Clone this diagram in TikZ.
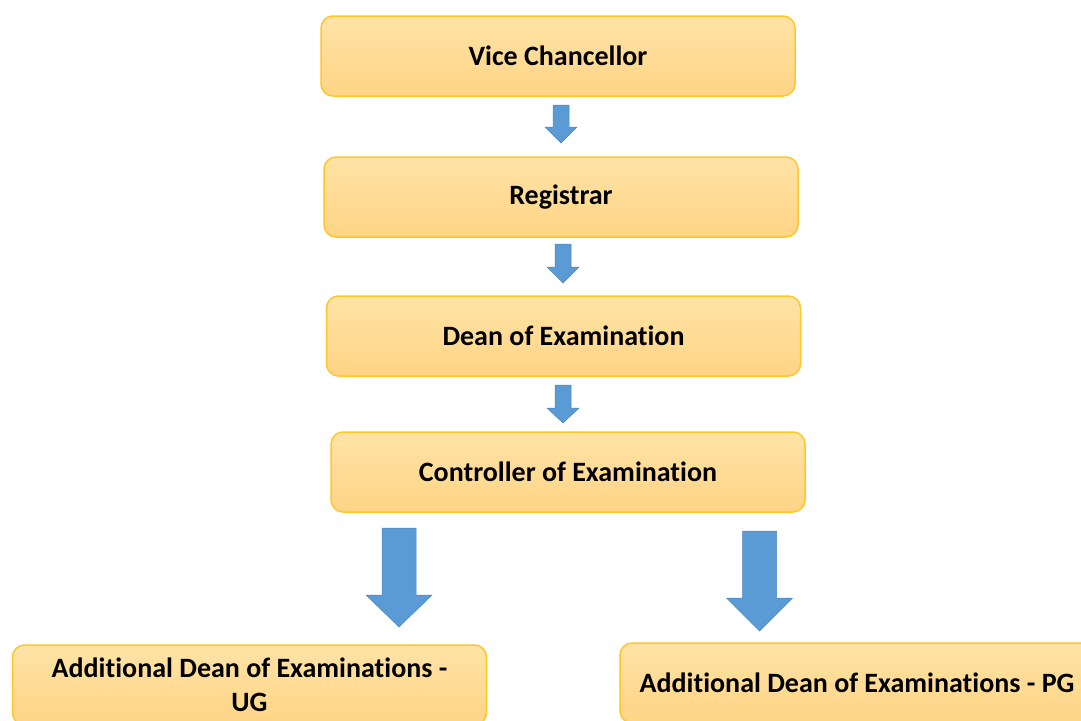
\documentclass[tikz,border=0pt]{standalone}
\usepackage{fontspec}
\setmainfont{Carlito}[Ligatures=NoCommon]
\definecolor{boxtop}{HTML}{FFE3A6}
\definecolor{boxbottom}{HTML}{FFD485}
\definecolor{boxline}{HTML}{FFC629}
\definecolor{arrowfill}{HTML}{5B9BD5}
\definecolor{arrowline}{HTML}{4A86C2}
\tikzset{
  office/.style={draw=boxline, line width=1.5pt, rounded corners=12pt,
    top color=boxtop, bottom color=boxbottom, minimum width=474pt,
    minimum height=80pt, inner sep=4pt, align=center,
    font=\fontsize{28}{34}\selectfont\bfseries},
  blockarrow/.style={fill=arrowfill, draw=arrowline, line width=0.5pt}
}
% down block arrow: x, top, head base, tip, half shaft, half head
\newcommand{\downblock}[6]{%
  \draw[blockarrow] (#1-#5, #2) -- (#1+#5, #2) -- (#1+#5, #3) -- (#1+#6, #3)
    -- (#1, #4) -- (#1-#6, #3) -- (#1-#5, #3) -- cycle;}
\begin{document}
\begin{tikzpicture}[x=1pt, y=-1pt]
      \useasboundingbox (0, 0) rectangle (1081, 720);
      \clip (0, 0) rectangle (1081, 720);
      \node (vc) [office] at (558, 56) {Vice Chancellor};
      \node (reg) [office] at (561, 197) {Registrar};
      \node (dean) [office] at (563.5, 336) {Dean of Examination};
      \node (coe) [office] at (568, 472) {Controller of Examination};
      \node (ug) [office] at (249.5, 685) {Additional Dean of Examinations -\\UG};
      \node (pg) [office] at (857, 683) {Additional Dean of Examinations - PG};
      \downblock{561}{105}{127}{143}{8}{16}
      \downblock{563}{244}{267}{283}{8}{16}
      \downblock{563}{385}{408}{423}{8}{16}
      \downblock{399}{528}{595}{627}{17}{33}
      \downblock{759.5}{531}{598}{631}{17}{33}
\end{tikzpicture}
\end{document}
